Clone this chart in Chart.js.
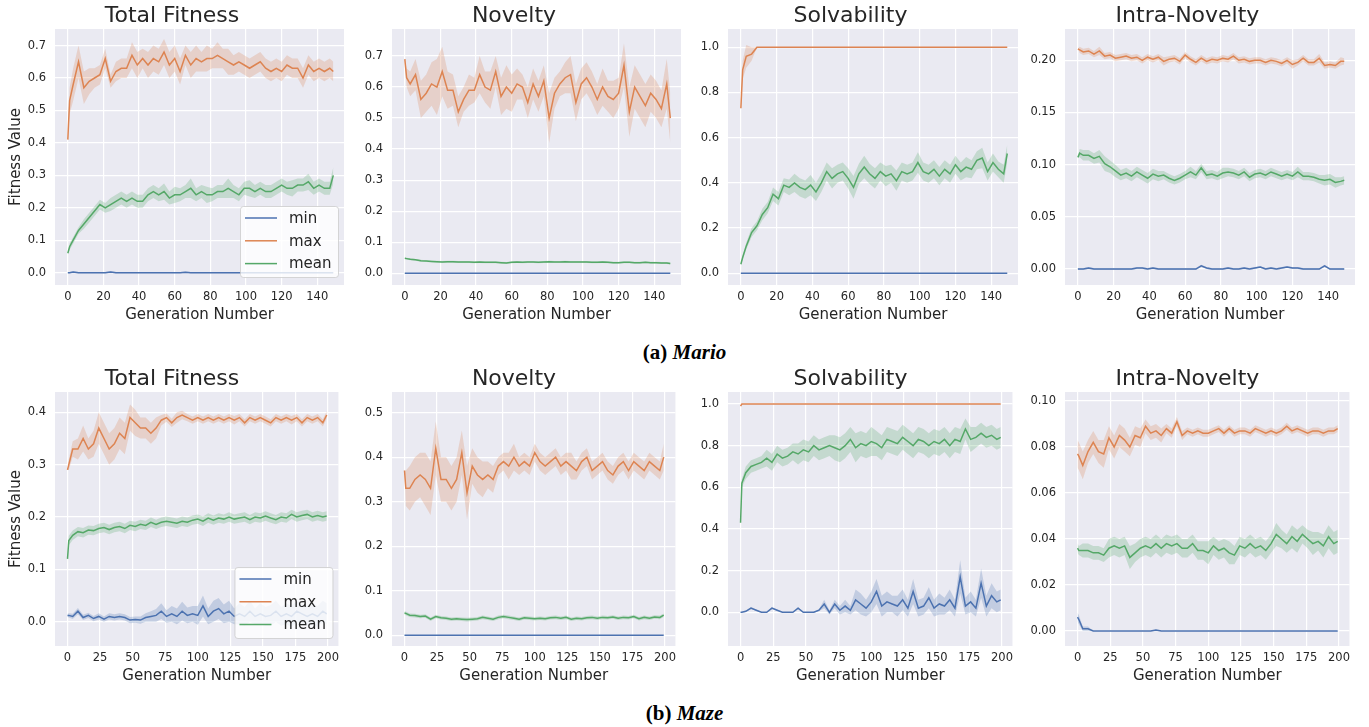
<!DOCTYPE html>
<html>
<head>
<meta charset="utf-8">
<title>Fitness curves: Mario and Maze</title>
<script src="https://cdn.jsdelivr.net/npm/chart.js@4.4.1/dist/chart.umd.min.js"></script>
<style>
  body { margin: 0; background: #fff; }
  #page { position: relative; width: 1369px; height: 727px; overflow: hidden; }
  #page canvas { position: absolute; }
  .caption { position: absolute; left: 0; width: 1369px; text-align: center;
    font-family: "Liberation Serif", serif; font-weight: bold; font-size: 21px;
    line-height: 24px; color: #000; }
</style>
</head>
<body>
<div id="page">
  <div class="caption" style="top:340px">(a) <i>Mario</i></div>
  <div class="caption" style="top:701px">(b) <i>Maze</i></div>
</div>
<script>
// generations sampled from the runs (Mario 150 gens, Maze 200 gens)
const marioGens = [0,1,3,6,9,12,15,18,21,24,27,30,33,36,39,42,45,48,51,54,57,60,63,66,69,72,
  75,78,81,84,87,90,93,96,99,102,105,108,111,114,117,120,123,126,129,132,135,138,141,144,147,149];
const mazeGens = [0,1,4,8,12,16,20,24,28,32,36,40,44,48,52,56,60,64,68,72,76,80,84,88,92,96,
  100,104,108,112,116,120,124,128,132,136,140,144,148,152,156,160,164,168,172,176,180,184,188,192,196,199];

const marioXTicks = [0, 20, 40, 60, 80, 100, 120, 140];
const mazeXTicks = [0, 25, 50, 75, 100, 125, 150, 175, 200];

const seriesNames = ['min', 'max', 'mean'];
const lineColors = {min: '#4c72b0', max: '#dd8452', mean: '#55a868'};
const bandColors = {min: 'rgba(76,114,176,0.25)', max: 'rgba(221,132,82,0.25)', mean: 'rgba(85,168,104,0.25)'};

// ---- Mario: Total Fitness
const marioTotalMax = [
  0.41,0.53,0.58,0.65,0.57,0.59,0.60,0.61,0.66,0.59,
  0.62,0.63,0.63,0.67,0.64,0.66,0.64,0.66,0.65,0.68,
  0.64,0.66,0.62,0.67,0.64,0.66,0.65,0.66,0.66,0.67,
  0.66,0.65,0.64,0.65,0.64,0.63,0.64,0.65,0.63,0.62,
  0.63,0.62,0.64,0.63,0.63,0.60,0.64,0.62,0.63,0.62,
  0.63,0.62];
const marioTotalMaxSd = [
  0.00,0.04,0.05,0.05,0.05,0.04,0.03,0.03,0.03,0.02,
  0.03,0.03,0.03,0.04,0.04,0.03,0.04,0.04,0.04,0.04,
  0.04,0.04,0.04,0.03,0.04,0.04,0.03,0.04,0.03,0.04,
  0.03,0.04,0.03,0.03,0.03,0.03,0.03,0.03,0.03,0.03,
  0.03,0.03,0.03,0.03,0.03,0.03,0.03,0.03,0.03,0.03,
  0.03,0.03];
const marioTotalMean = [
  0.06,0.08,0.10,0.13,0.15,0.17,0.19,0.21,0.20,0.21,
  0.22,0.23,0.22,0.23,0.22,0.22,0.24,0.25,0.24,0.25,
  0.23,0.24,0.24,0.25,0.26,0.24,0.25,0.24,0.24,0.25,
  0.25,0.26,0.25,0.24,0.26,0.26,0.25,0.26,0.25,0.25,
  0.26,0.27,0.26,0.26,0.27,0.27,0.28,0.26,0.27,0.26,
  0.26,0.30];
const marioTotalMeanSd = [
  0.000,0.010,0.010,0.010,0.015,0.015,0.015,0.015,0.015,0.020,
  0.020,0.020,0.020,0.020,0.020,0.020,0.020,0.020,0.020,0.025,
  0.020,0.025,0.020,0.020,0.030,0.020,0.020,0.025,0.020,0.020,
  0.020,0.030,0.020,0.020,0.020,0.025,0.020,0.020,0.020,0.020,
  0.020,0.020,0.020,0.025,0.020,0.020,0.025,0.020,0.020,0.020,
  0.020,0.025];
const marioTotalMin = [
  0,0,0.002,0,0,0,0,0,0,0.002,
  0,0,0,0,0,0,0,0,0,0,
  0,0,0,0.001,0,0,0,0,0,0,
  0,0,0,0,0,0,0,0,0,0,
  0,0,0,0,0,0,0,0,0,0,
  0,0];
const marioTotalMinSd = 0.002;

// ---- Mario: Novelty
const marioNovMax = [
  0.69,0.63,0.61,0.64,0.56,0.58,0.61,0.60,0.65,0.59,
  0.59,0.52,0.56,0.59,0.59,0.64,0.60,0.59,0.65,0.57,
  0.60,0.58,0.61,0.60,0.55,0.61,0.57,0.62,0.50,0.58,
  0.61,0.63,0.64,0.55,0.61,0.63,0.60,0.56,0.60,0.57,
  0.56,0.58,0.67,0.52,0.60,0.57,0.54,0.58,0.56,0.53,
  0.61,0.50];
const marioNovMaxSd = [
  0.00,0.03,0.04,0.05,0.06,0.06,0.07,0.09,0.08,0.06,
  0.05,0.05,0.04,0.05,0.04,0.06,0.05,0.06,0.05,0.06,
  0.07,0.06,0.05,0.04,0.05,0.05,0.05,0.05,0.08,0.05,
  0.04,0.05,0.06,0.06,0.05,0.05,0.05,0.05,0.06,0.05,
  0.06,0.05,0.07,0.08,0.07,0.07,0.07,0.06,0.06,0.06,
  0.08,0.08];
const marioNovMean = [
  0.048,0.047,0.045,0.043,0.040,0.039,0.038,0.037,0.036,0.037,
  0.037,0.036,0.036,0.036,0.035,0.036,0.035,0.035,0.035,0.034,
  0.033,0.035,0.036,0.035,0.036,0.036,0.035,0.036,0.037,0.036,
  0.036,0.037,0.036,0.036,0.036,0.036,0.035,0.035,0.036,0.035,
  0.034,0.034,0.035,0.035,0.034,0.034,0.035,0.034,0.034,0.033,
  0.033,0.031];
const marioNovMeanSd = 0.003;
const marioNovMin = [
  0,0,0,0,0,0,0,0,0,0, 0,0,0,0,0,0,0,0,0,0, 0,0,0,0,0,0,0,0,0,0,
  0,0,0,0,0,0,0,0,0,0, 0,0,0,0,0,0,0,0,0,0, 0,0];
const marioNovMinSd = 0;

// ---- Mario: Solvability
const marioSolvMax = [
  0.73,0.90,0.96,0.97,1,1,1,1,1,1, 1,1,1,1,1,1,1,1,1,1, 1,1,1,1,1,1,1,1,1,1,
  1,1,1,1,1,1,1,1,1,1, 1,1,1,1,1,1,1,1,1,1, 1,1];
const marioSolvMaxSd = [
  0,0.04,0.05,0.03,0,0,0,0,0,0, 0,0,0,0,0,0,0,0,0,0, 0,0,0,0,0,0,0,0,0,0,
  0,0,0,0,0,0,0,0,0,0, 0,0,0,0,0,0,0,0,0,0, 0,0];
const marioSolvMean = [
  0.04,0.07,0.12,0.18,0.21,0.26,0.29,0.35,0.33,0.39,
  0.38,0.40,0.38,0.37,0.39,0.36,0.40,0.45,0.42,0.44,
  0.45,0.42,0.38,0.44,0.47,0.44,0.42,0.45,0.43,0.44,
  0.41,0.45,0.44,0.45,0.49,0.45,0.44,0.46,0.43,0.46,
  0.44,0.48,0.45,0.47,0.46,0.50,0.51,0.45,0.49,0.46,
  0.44,0.53];
const marioSolvMeanSd = [
  0.000,0.010,0.015,0.020,0.020,0.025,0.025,0.030,0.030,0.030,
  0.035,0.040,0.040,0.040,0.045,0.040,0.040,0.040,0.045,0.040,
  0.040,0.045,0.050,0.045,0.050,0.045,0.045,0.040,0.045,0.040,
  0.045,0.040,0.040,0.040,0.045,0.040,0.040,0.040,0.040,0.040,
  0.040,0.040,0.040,0.045,0.040,0.040,0.045,0.040,0.040,0.035,
  0.040,0.040];
const marioSolvMin = [
  0,0,0,0,0,0,0,0,0,0, 0,0,0,0,0,0,0,0,0,0, 0,0,0,0,0,0,0,0,0,0,
  0,0,0,0,0,0,0,0,0,0, 0,0,0,0,0,0,0,0,0,0, 0,0];
const marioSolvMinSd = 0;

// ---- Mario: Intra-Novelty
const marioIntraMax = [
  0.211,0.210,0.208,0.209,0.206,0.209,0.204,0.205,0.202,0.203,
  0.204,0.202,0.203,0.200,0.203,0.201,0.203,0.199,0.201,0.202,
  0.199,0.205,0.201,0.198,0.202,0.199,0.201,0.200,0.202,0.201,
  0.204,0.200,0.201,0.199,0.200,0.200,0.198,0.200,0.199,0.197,
  0.200,0.196,0.198,0.202,0.198,0.198,0.202,0.195,0.196,0.195,
  0.199,0.199];
const marioIntraMaxSd = [
  0.000,0.003,0.003,0.003,0.003,0.004,0.003,0.003,0.003,0.003,
  0.003,0.003,0.003,0.003,0.003,0.003,0.003,0.004,0.003,0.003,
  0.003,0.003,0.003,0.003,0.003,0.003,0.003,0.003,0.003,0.003,
  0.003,0.003,0.003,0.003,0.003,0.003,0.003,0.003,0.003,0.003,
  0.003,0.004,0.003,0.003,0.003,0.003,0.004,0.003,0.003,0.003,
  0.004,0.003];
const marioIntraMean = [
  0.107,0.111,0.109,0.109,0.106,0.108,0.101,0.098,0.094,0.090,
  0.092,0.089,0.093,0.090,0.087,0.091,0.089,0.090,0.087,0.085,
  0.087,0.090,0.093,0.090,0.097,0.090,0.091,0.089,0.092,0.093,
  0.092,0.090,0.093,0.088,0.091,0.092,0.090,0.093,0.091,0.089,
  0.091,0.089,0.093,0.089,0.089,0.088,0.086,0.085,0.086,0.083,
  0.084,0.085];
const marioIntraMeanSd = [
  0.000,0.004,0.005,0.005,0.005,0.006,0.007,0.006,0.006,0.005,
  0.005,0.005,0.005,0.005,0.005,0.005,0.005,0.004,0.004,0.004,
  0.004,0.004,0.005,0.004,0.004,0.004,0.004,0.004,0.005,0.004,
  0.004,0.004,0.004,0.004,0.004,0.004,0.004,0.004,0.004,0.004,
  0.004,0.004,0.005,0.004,0.004,0.004,0.004,0.005,0.005,0.005,
  0.004,0.004];
const marioIntraMin = [
  0,0,0,0.001,0,0,0,0,0,0,
  0,0,0.001,0.001,0,0.001,0,0,0,0,
  0,0,0,0,0.003,0.001,0,0,0,0.001,
  0,0,0.001,0,0.001,0.002,0,0.001,0,0.001,
  0.002,0.001,0.001,0,0,0,0,0.003,0,0,
  0,0];
const marioIntraMinSd = 0.001;

// ---- Maze: Total Fitness
const mazeTotalMax = [
  0.29,0.30,0.33,0.33,0.35,0.33,0.34,0.37,0.35,0.33,
  0.34,0.36,0.35,0.39,0.38,0.37,0.37,0.36,0.37,0.385,
  0.39,0.38,0.39,0.395,0.39,0.385,0.39,0.385,0.39,0.385,
  0.39,0.385,0.39,0.385,0.39,0.38,0.39,0.385,0.39,0.385,
  0.38,0.39,0.385,0.39,0.385,0.39,0.38,0.39,0.385,0.39,
  0.38,0.395];
const mazeTotalMaxSd = [
  0.000,0.010,0.015,0.020,0.025,0.020,0.025,0.030,0.030,0.030,
  0.030,0.030,0.030,0.025,0.025,0.020,0.020,0.020,0.020,0.010,
  0.008,0.008,0.010,0.008,0.007,0.007,0.007,0.007,0.007,0.007,
  0.007,0.007,0.007,0.008,0.007,0.007,0.007,0.007,0.007,0.007,
  0.007,0.007,0.007,0.007,0.008,0.007,0.007,0.007,0.007,0.007,
  0.007,0.007];
const mazeTotalMean = [
  0.120,0.155,0.165,0.172,0.170,0.175,0.174,0.178,0.180,0.176,
  0.180,0.182,0.178,0.184,0.182,0.186,0.184,0.190,0.186,0.190,
  0.192,0.190,0.188,0.192,0.190,0.194,0.196,0.192,0.198,0.194,
  0.198,0.196,0.200,0.196,0.198,0.200,0.195,0.200,0.198,0.202,
  0.198,0.195,0.200,0.198,0.205,0.200,0.203,0.205,0.200,0.203,
  0.200,0.202];
const mazeTotalMeanSd = 0.009;
const mazeTotalMin = [
  0.012,0.012,0.010,0.020,0.008,0.012,0.006,0.010,0.005,0.010,
  0.008,0.010,0.008,0.003,0.004,0.003,0.008,0.010,0.012,0.020,
  0.010,0.015,0.010,0.020,0.012,0.015,0.012,0.030,0.010,0.020,
  0.025,0.015,0.020,0.010,0.015,0.010,0.020,0.010,0.015,0.010,
  0.012,0.020,0.010,0.015,0.010,0.020,0.015,0.010,0.015,0.010,
  0.020,0.015];
const mazeTotalMinSd = [
  0.003,0.004,0.005,0.006,0.005,0.005,0.005,0.006,0.005,0.006,
  0.006,0.006,0.006,0.006,0.006,0.007,0.008,0.010,0.012,0.015,
  0.012,0.015,0.015,0.018,0.015,0.015,0.018,0.020,0.015,0.020,
  0.020,0.018,0.020,0.015,0.020,0.018,0.020,0.015,0.020,0.018,
  0.020,0.020,0.018,0.020,0.020,0.020,0.018,0.020,0.020,0.020,
  0.020,0.020];

// ---- Maze: Novelty
const mazeNovMax = [
  0.37,0.33,0.33,0.35,0.36,0.35,0.33,0.42,0.35,0.35,
  0.33,0.35,0.41,0.32,0.38,0.36,0.35,0.36,0.35,0.38,
  0.39,0.38,0.40,0.38,0.39,0.38,0.41,0.39,0.38,0.39,
  0.40,0.38,0.39,0.38,0.37,0.39,0.40,0.37,0.38,0.39,
  0.37,0.36,0.38,0.39,0.37,0.39,0.38,0.37,0.39,0.38,
  0.37,0.40];
const mazeNovMaxSd = [
  0.00,0.04,0.05,0.05,0.05,0.06,0.06,0.06,0.05,0.05,
  0.05,0.05,0.05,0.06,0.04,0.04,0.04,0.03,0.03,0.02,
  0.02,0.03,0.03,0.02,0.02,0.02,0.02,0.02,0.02,0.02,
  0.02,0.02,0.02,0.03,0.02,0.02,0.02,0.02,0.02,0.02,
  0.02,0.02,0.02,0.02,0.02,0.02,0.02,0.02,0.02,0.02,
  0.02,0.03];
const mazeNovMean = [
  0.050,0.049,0.045,0.044,0.042,0.043,0.036,0.042,0.039,0.038,
  0.036,0.037,0.036,0.035,0.036,0.037,0.040,0.038,0.036,0.040,
  0.042,0.040,0.038,0.036,0.039,0.038,0.037,0.038,0.037,0.039,
  0.040,0.038,0.040,0.036,0.038,0.037,0.039,0.040,0.038,0.040,
  0.039,0.041,0.038,0.040,0.039,0.042,0.037,0.040,0.038,0.041,
  0.040,0.045];
const mazeNovMeanSd = 0.004;
const mazeNovMin = [
  0,0,0,0,0,0,0,0,0,0, 0,0,0,0,0,0,0,0,0,0, 0,0,0,0,0,0,0,0,0,0,
  0,0,0,0,0,0,0,0,0,0, 0,0,0,0,0,0,0,0,0,0, 0,0];
const mazeNovMinSd = 0;

// ---- Maze: Solvability
const mazeSolvMax = [
  0.99,1,1,1,1,1,1,1,1,1, 1,1,1,1,1,1,1,1,1,1, 1,1,1,1,1,1,1,1,1,1,
  1,1,1,1,1,1,1,1,1,1, 1,1,1,1,1,1,1,1,1,1, 1,1];
const mazeSolvMaxSd = 0;
const mazeSolvMean = [
  0.43,0.62,0.67,0.70,0.71,0.72,0.74,0.72,0.76,0.74,
  0.75,0.77,0.76,0.78,0.77,0.80,0.78,0.79,0.80,0.79,
  0.78,0.80,0.83,0.79,0.81,0.80,0.82,0.81,0.79,0.83,
  0.82,0.81,0.84,0.82,0.80,0.83,0.82,0.80,0.82,0.81,
  0.83,0.80,0.83,0.82,0.88,0.83,0.84,0.86,0.84,0.85,
  0.83,0.84];
const mazeSolvMeanSd = [
  0.00,0.02,0.03,0.03,0.03,0.03,0.04,0.04,0.04,0.04,
  0.04,0.04,0.05,0.05,0.05,0.05,0.05,0.05,0.05,0.06,
  0.06,0.06,0.06,0.07,0.06,0.06,0.07,0.06,0.06,0.06,
  0.06,0.06,0.06,0.06,0.06,0.06,0.06,0.06,0.06,0.06,
  0.06,0.06,0.06,0.06,0.05,0.06,0.05,0.05,0.05,0.05,
  0.05,0.05];
const mazeSolvMin = [
  0,0,0.005,0.02,0.01,0,0,0.02,0.01,0,
  0,0,0.02,0,0,0,0.01,0.04,0,0.04,
  0.01,0.03,0.01,0.06,0.04,0.02,0.05,0.10,0.03,0.05,
  0.04,0.03,0.06,0.02,0.10,0.02,0.03,0.07,0.02,0.04,
  0.03,0.06,0.02,0.17,0.03,0.05,0.02,0.14,0.03,0.08,
  0.05,0.06];
const mazeSolvMinSd = [
  0,0,0.003,0.005,0.003,0,0,0.005,0.003,0,
  0,0,0.005,0,0,0.003,0.005,0.02,0.01,0.02,
  0.02,0.03,0.02,0.05,0.05,0.04,0.05,0.06,0.05,0.05,
  0.04,0.05,0.05,0.04,0.06,0.04,0.04,0.05,0.04,0.05,
  0.04,0.05,0.04,0.08,0.04,0.05,0.04,0.07,0.05,0.06,
  0.05,0.05];

// ---- Maze: Intra-Novelty
const mazeIntraMax = [
  0.077,0.076,0.072,0.078,0.082,0.078,0.077,0.084,0.080,0.085,
  0.083,0.080,0.085,0.084,0.089,0.086,0.087,0.085,0.088,0.086,
  0.091,0.085,0.087,0.086,0.087,0.086,0.086,0.087,0.088,0.086,
  0.088,0.086,0.087,0.087,0.086,0.088,0.087,0.086,0.087,0.086,
  0.087,0.089,0.087,0.088,0.087,0.086,0.087,0.087,0.086,0.087,
  0.087,0.088];
const mazeIntraMaxSd = [
  0.006,0.006,0.006,0.005,0.005,0.005,0.006,0.005,0.005,0.005,
  0.005,0.004,0.004,0.004,0.003,0.003,0.003,0.003,0.002,0.002,
  0.002,0.002,0.0015,0.0015,0.0015,0.0015,0.0015,0.0015,0.0015,0.0015,
  0.0015,0.0015,0.0015,0.0015,0.0015,0.0015,0.0015,0.0015,0.0015,0.0015,
  0.0015,0.0015,0.0015,0.0015,0.0015,0.0015,0.0015,0.0015,0.0015,0.0015,
  0.0015,0.0015];
const mazeIntraMean = [
  0.036,0.035,0.035,0.035,0.034,0.034,0.033,0.036,0.037,0.036,
  0.037,0.032,0.034,0.036,0.037,0.036,0.038,0.036,0.038,0.037,
  0.038,0.036,0.036,0.038,0.035,0.035,0.034,0.037,0.035,0.036,
  0.034,0.033,0.037,0.036,0.038,0.036,0.037,0.035,0.038,0.042,
  0.040,0.038,0.041,0.039,0.042,0.040,0.038,0.039,0.037,0.041,
  0.038,0.039];
const mazeIntraMeanSd = [
  0.002,0.002,0.003,0.003,0.003,0.003,0.003,0.004,0.004,0.004,
  0.004,0.005,0.004,0.004,0.004,0.004,0.004,0.004,0.004,0.004,
  0.004,0.004,0.004,0.004,0.004,0.004,0.005,0.004,0.004,0.004,
  0.005,0.004,0.004,0.004,0.004,0.004,0.004,0.004,0.004,0.005,
  0.004,0.004,0.005,0.005,0.004,0.004,0.005,0.004,0.005,0.005,
  0.005,0.005];
const mazeIntraMin = [
  0.006,0.005,0.001,0.001,0,0,0,0,0,0,
  0,0,0,0,0,0,0.0005,0,0,0,
  0,0,0,0,0,0,0,0,0,0,
  0,0,0,0,0,0,0,0,0,0,
  0,0,0,0,0,0,0,0,0,0,
  0,0];
const mazeIntraMinSd = [
  0.002,0.002,0.001,0.001,0,0,0,0,0,0,
  0,0,0,0,0,0,0,0,0,0, 0,0,0,0,0,0,0,0,0,0,
  0,0,0,0,0,0,0,0,0,0, 0,0,0,0,0,0,0,0,0,0, 0,0];

// y tick labels per panel
const yTicksOneTenth = ['0.0','0.1','0.2','0.3','0.4','0.5','0.6','0.7'];
const yTicksFifths = ['0.0','0.2','0.4','0.6','0.8','1.0'];
const yTicksMarioIntra = ['0.00','0.05','0.10','0.15','0.20'];
const yTicksMazeTotal = ['0.0','0.1','0.2','0.3','0.4'];
const yTicksMazeNov = ['0.0','0.1','0.2','0.3','0.4','0.5'];
const yTicksMazeIntra = ['0.00','0.02','0.04','0.06','0.08','0.10'];

const panels = [
  {title: 'Total Fitness', gens: marioGens, xTicks: marioXTicks, yTicks: yTicksOneTenth,
   yRange: [-0.038, 0.751], legend: true, yTitle: true,
   min: marioTotalMin, minSd: marioTotalMinSd, max: marioTotalMax, maxSd: marioTotalMaxSd,
   mean: marioTotalMean, meanSd: marioTotalMeanSd},
  {title: 'Novelty', gens: marioGens, xTicks: marioXTicks, yTicks: yTicksOneTenth,
   yRange: [-0.038, 0.787],
   min: marioNovMin, minSd: marioNovMinSd, max: marioNovMax, maxSd: marioNovMaxSd,
   mean: marioNovMean, meanSd: marioNovMeanSd},
  {title: 'Solvability', gens: marioGens, xTicks: marioXTicks, yTicks: yTicksFifths,
   yRange: [-0.052, 1.081],
   min: marioSolvMin, minSd: marioSolvMinSd, max: marioSolvMax, maxSd: marioSolvMaxSd,
   mean: marioSolvMean, meanSd: marioSolvMeanSd},
  {title: 'Intra-Novelty', gens: marioGens, xTicks: marioXTicks, yTicks: yTicksMarioIntra,
   yRange: [-0.0153, 0.230],
   min: marioIntraMin, minSd: marioIntraMinSd, max: marioIntraMax, maxSd: marioIntraMaxSd,
   mean: marioIntraMean, meanSd: marioIntraMeanSd},
  {title: 'Total Fitness', gens: mazeGens, xTicks: mazeXTicks, yTicks: yTicksMazeTotal,
   yRange: [-0.0465, 0.4389], legend: true, yTitle: true,
   min: mazeTotalMin, minSd: mazeTotalMinSd, max: mazeTotalMax, maxSd: mazeTotalMaxSd,
   mean: mazeTotalMean, meanSd: mazeTotalMeanSd},
  {title: 'Novelty', gens: mazeGens, xTicks: mazeXTicks, yTicks: yTicksMazeNov,
   yRange: [-0.0243, 0.5464],
   min: mazeNovMin, minSd: mazeNovMinSd, max: mazeNovMax, maxSd: mazeNovMaxSd,
   mean: mazeNovMean, meanSd: mazeNovMeanSd},
  {title: 'Solvability', gens: mazeGens, xTicks: mazeXTicks, yTicks: yTicksFifths,
   yRange: [-0.1617, 1.0576],
   min: mazeSolvMin, minSd: mazeSolvMinSd, max: mazeSolvMax, maxSd: mazeSolvMaxSd,
   mean: mazeSolvMean, meanSd: mazeSolvMeanSd},
  {title: 'Intra-Novelty', gens: mazeGens, xTicks: mazeXTicks, yTicks: yTicksMazeIntra,
   yRange: [-0.0065, 0.1039],
   min: mazeIntraMin, minSd: mazeIntraMinSd, max: mazeIntraMax, maxSd: mazeIntraMaxSd,
   mean: mazeIntraMean, meanSd: mazeIntraMeanSd},
];

// where each canvas sits on the page
const columns = [
  {left: 0, width: 344, axis: 55},
  {left: 347, width: 334, axis: 45},
  {left: 683, width: 335, axis: 45},
  {left: 1020, width: 335, axis: 45},
];
const rows = [{top: 0, height: 325}, {top: 363, height: 323}];
const xRanges = {mario: [-7.2, 155], maze: [-9.6, 208]};

const INK = '#262626';
Chart.defaults.font.family = '"DejaVu Sans", sans-serif';
Chart.defaults.color = INK;

const plotBackground = {
  id: 'plotBackground',
  beforeDraw(chart) {
    const {ctx, chartArea: a} = chart;
    ctx.save();
    ctx.fillStyle = '#eaeaf2';
    ctx.fillRect(a.left, a.top, a.right - a.left, a.bottom - a.top);
    ctx.restore();
  },
};

const legendBox = {
  id: 'legendBox',
  afterDraw(chart, args, opts) {
    if (!opts.show) return;
    const {ctx, chartArea: a} = chart;
    const w = 98, h = 71;
    const x = a.right - 6 - w, y = a.bottom - 8 - h;
    ctx.save();
    ctx.beginPath();
    ctx.roundRect(x + 0.5, y + 0.5, w, h, 3);
    ctx.fillStyle = 'rgba(255,255,255,0.8)';
    ctx.fill();
    ctx.strokeStyle = 'rgba(204,204,204,0.8)';
    ctx.lineWidth = 1;
    ctx.stroke();
    ctx.font = '15px "DejaVu Sans"';
    ctx.textBaseline = 'middle';
    seriesNames.forEach((name, i) => {
      const cy = y + 12 + i * 22.8;
      ctx.strokeStyle = lineColors[name];
      ctx.lineWidth = 1.5;
      ctx.beginPath();
      ctx.moveTo(x + 5, cy);
      ctx.lineTo(x + 37, cy);
      ctx.stroke();
      ctx.fillStyle = INK;
      ctx.fillText(name, x + 49, cy + 1);
    });
    ctx.restore();
  },
};

function points(gens, vals, sd, sign) {
  return gens.map((g, i) => {
    const w = Array.isArray(sd) ? sd[i] : sd;
    return {x: g, y: vals[i] + sign * w};
  });
}

function buildDatasets(p) {
  const bands = [];
  const lines = [];
  seriesNames.forEach((name, k) => {
    const sd = p[name + 'Sd'];
    if (sd !== 0) {
      bands.push({data: points(p.gens, p[name], sd, -1), borderColor: 'rgba(0,0,0,0)',
        borderWidth: 0, pointRadius: 0, fill: false, order: 10});
      bands.push({data: points(p.gens, p[name], sd, 1), borderColor: 'rgba(0,0,0,0)',
        borderWidth: 0, pointRadius: 0, fill: '-1', backgroundColor: bandColors[name], order: 10});
    }
    lines.push({label: name, data: points(p.gens, p[name], 0, 0), borderColor: lineColors[name],
      borderWidth: 1.5, pointRadius: 0, fill: false, tension: 0, order: 3 - k});
  });
  return bands.concat(lines);
}

const page = document.getElementById('page');

panels.forEach((p, n) => {
  const col = columns[n % 4];
  const row = rows[Math.floor(n / 4)];
  const canvas = document.createElement('canvas');
  canvas.width = col.width;
  canvas.height = row.height;
  canvas.style.left = col.left + 'px';
  canvas.style.top = row.top + 'px';
  canvas.style.width = col.width + 'px';
  canvas.style.height = row.height + 'px';
  page.appendChild(canvas);

  const yValues = p.yTicks.map(parseFloat);
  const xr = p.gens === marioGens ? xRanges.mario : xRanges.maze;

  new Chart(canvas, {
    type: 'line',
    data: {datasets: buildDatasets(p)},
    plugins: [plotBackground, legendBox],
    options: {
      responsive: false,
      animation: false,
      layout: {padding: 0},
      plugins: {
        legend: {display: false},
        tooltip: {enabled: false},
        title: {display: true, text: p.title, color: INK,
          font: {size: 22, weight: 'normal', lineHeight: 1.0}, padding: {top: 5.5, bottom: 1.5}},
        legendBox: {show: !!p.legend},
      },
      scales: {
        x: {
          type: 'linear', min: xr[0], max: xr[1],
          afterBuildTicks: (s) => { s.ticks = p.xTicks.map((v) => ({value: v})); },
          afterFit: (s) => { s.height = 40; },
          ticks: {autoSkip: false, maxRotation: 0, padding: 5, color: INK,
            font: {size: 11.5}, callback: (v) => String(v)},
          grid: {color: '#ffffff', lineWidth: 1.2, drawTicks: false},
          border: {display: false},
          title: {display: true, text: 'Generation Number', color: INK,
            font: {size: 15}, padding: {top: 0, bottom: 1}},
        },
        y: {
          type: 'linear', min: p.yRange[0], max: p.yRange[1],
          afterBuildTicks: (s) => { s.ticks = yValues.map((v) => ({value: v})); },
          afterFit: (s) => { s.width = col.axis; },
          ticks: {autoSkip: false, padding: 9, color: INK, font: {size: 11.5},
            callback: (v, i) => p.yTicks[i]},
          grid: {color: '#ffffff', lineWidth: 1.2, drawTicks: false},
          border: {display: false},
          title: {display: !!p.yTitle, text: 'Fitness Value', color: INK,
            font: {size: 15}, padding: {top: 7, bottom: 0}},
        },
      },
    },
  });
});
</script>
</body>
</html>
